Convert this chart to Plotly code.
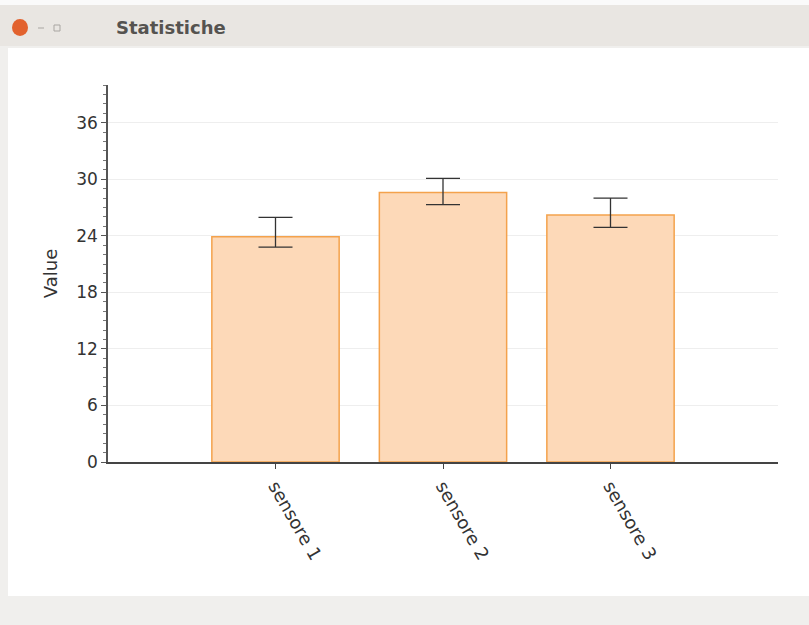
import plotly.graph_objects as go

categories = ["sensore 1", "sensore 2", "sensore 3"]
values = [23.9, 28.6, 26.2]
err_plus = [2.05, 1.5, 1.8]
err_minus = [1.1, 1.3, 1.3]
y_ticks = [0, 6, 12, 18, 24, 30, 36]

W, H = 809, 625
L, R, T, B = 108, 31, 85, 163
PW = W - L - R
PH = H - T - B

def px(x):
    return (x - L) / PW

def py(y):
    return (H - B - y) / PH

fig = go.Figure()
fig.add_trace(go.Bar(
    x=[0, 1, 2], y=values, width=0.76,
    marker=dict(color="#fdd9b8", line=dict(color="#f4a24c", width=1.5)),
    error_y=dict(type="data", symmetric=False, array=err_plus, arrayminus=err_minus,
                 color="#333333", thickness=1.3, width=17),
))

shapes = [
    # window background
    dict(type="rect", xref="paper", yref="paper", x0=px(0), x1=px(W), y0=py(H), y1=py(0),
         fillcolor="#f0efed", line=dict(width=0), layer="below"),
    # title bar
    dict(type="rect", xref="paper", yref="paper", x0=px(0), x1=px(W), y0=py(46), y1=py(5),
         fillcolor="#e9e6e2", line=dict(width=0), layer="below"),
    dict(type="rect", xref="paper", yref="paper", x0=px(0), x1=px(W), y0=py(5), y1=py(0),
         fillcolor="#fafafa", line=dict(width=0), layer="below"),
    # content panel
    dict(type="rect", xref="paper", yref="paper", x0=px(8), x1=px(W), y0=py(596), y1=py(48),
         fillcolor="#ffffff", line=dict(width=0), layer="below"),
    # close button
    dict(type="circle", xref="paper", yref="paper", x0=px(12), x1=px(28), y0=py(36), y1=py(19),
         fillcolor="#e2622e", line=dict(width=0)),
    dict(type="line", xref="paper", yref="paper", x0=px(38), x1=px(44), y0=py(28), y1=py(28),
         line=dict(color="#a9a6a2", width=1)),
    dict(type="rect", xref="paper", yref="paper", x0=px(54), x1=px(60), y0=py(31), y1=py(25),
         line=dict(color="#a9a6a2", width=1)),
]

fig.add_annotation(text="<b>Statistiche</b>", xref="paper", yref="paper", x=px(114), y=py(27),
                   xanchor="left", yanchor="middle", showarrow=False,
                   font=dict(family="DejaVu Sans", size=18, color="#555350"))

fig.update_layout(
    width=W, height=H,
    margin=dict(l=L, r=R, t=T, b=B),
    paper_bgcolor="#f0efed", plot_bgcolor="rgba(0,0,0,0)",
    shapes=shapes,
    showlegend=False,
    font=dict(family="DejaVu Sans", size=17, color="#333333"),
    xaxis=dict(
        range=[-1, 3], tickmode="array", tickvals=[0, 1, 2], ticktext=categories,
        tickangle=60, ticks="outside", ticklen=5, tickcolor="#444444",
        showline=True, linecolor="#444444", linewidth=1.5, showgrid=False, zeroline=False,
        tickfont=dict(size=18, color="#333333"),
    ),
    yaxis=dict(
        range=[0, 40], tickmode="array", tickvals=y_ticks,
        ticks="outside", ticklen=5, tickcolor="#555555",
        minor=dict(dtick=1, ticks="outside", ticklen=3, tickcolor="#777777", showgrid=False),
        showline=True, linecolor="#555555", linewidth=1.5,
        showgrid=True, gridcolor="#eeeeee", gridwidth=1, zeroline=False,
        title=dict(text="Value", standoff=14, font=dict(size=18, color="#333333")),
        tickfont=dict(size=17, color="#333333"),
    ),
)

fig.write_html("out.html", config={"displayModeBar": False},
               post_script="document.body.style.margin='0';document.body.style.overflow='hidden';")
